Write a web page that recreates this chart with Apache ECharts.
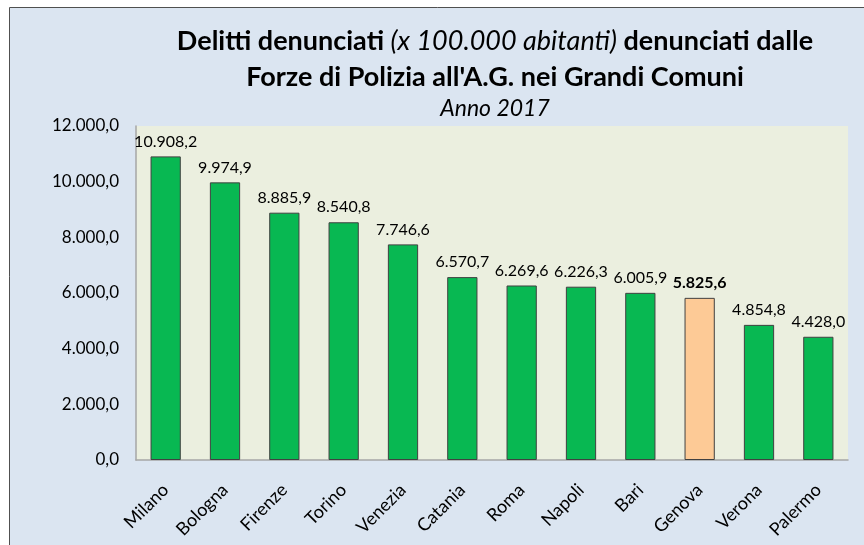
<!DOCTYPE html>
<html>
<head>
<meta charset="utf-8">
<script src="https://cdn.jsdelivr.net/npm/echarts@6/dist/echarts.min.js"></script>
<style>
  html, body { margin: 0; padding: 0; background: #fff; }
  #main { width: 864px; height: 545px; }
</style>
</head>
<body>
<div id="main"></div>
<script>
const cities = ['Milano', 'Bologna', 'Firenze', 'Torino', 'Venezia', 'Catania', 'Roma', 'Napoli', 'Bari', 'Genova', 'Verona', 'Palermo'];
const crimesPer100k = [10908.2, 9974.9, 8885.9, 8540.8, 7746.6, 6570.7, 6269.6, 6226.3, 6005.9, 5825.6, 4854.8, 4428.0];
const highlightCity = 'Genova';

const FONT = 'Lato';

// formato italiano: 10.908,2
function fmt(v) {
    const parts = v.toFixed(1).split('.');
    return parts[0].replace(/\B(?=(\d{3})+(?!\d))/g, '.') + ',' + parts[1];
}

const chart = echarts.init(document.getElementById('main'));

const barData = crimesPer100k.map((v, i) => {
    const isHl = cities[i] === highlightCity;
    return {
        value: v,
        itemStyle: { color: isHl ? '#fdca96' : '#08b852' },
        label: { fontWeight: isHl ? 'bold' : 'normal' }
    };
});

chart.setOption({
    backgroundColor: '#ffffff',
    textStyle: { fontFamily: FONT },
    graphic: [
        {
            type: 'rect',
            z: -10,
            shape: { x: 9.5, y: 7.5, width: 900, height: 600 },
            style: { fill: '#dbe5f1', stroke: '#505050', lineWidth: 1 }
        }
    ],
    title: {
        left: 490,
        textAlign: 'center',
        top: 18,
        text: '{b|Delitti denunciati }{i|(x 100.000 abitanti)}{b| denunciati dalle}\n{b|Forze di Polizia all\'A.G. nei Grandi Comuni}',
        textStyle: {
            lineHeight: 36,
            fontWeight: 'normal',
            rich: {
                b: { fontFamily: FONT, fontSize: 27, fontWeight: 'bold', color: '#000', lineHeight: 36 },
                i: { fontFamily: FONT, fontSize: 27, fontStyle: 'italic', fontWeight: 'normal', color: '#000', lineHeight: 36 }
            }
        },
        subtext: 'Anno 2017',
        itemGap: 2,
        subtextStyle: { fontFamily: FONT, fontSize: 23, fontStyle: 'italic', color: '#000' }
    },
    grid: {
        left: 136,
        right: 16,
        top: 126,
        bottom: 85,
        show: true,
        backgroundColor: '#ebefdf',
        borderWidth: 0
    },
    xAxis: {
        type: 'category',
        data: cities,
        axisLine: { lineStyle: { color: '#a6a6a6', width: 1.5 } },
        axisTick: { show: false },
        axisLabel: {
            rotate: 45,
            interval: 0,
            margin: 27,
            fontSize: 18,
            fontFamily: FONT,
            color: '#000'
        }
    },
    yAxis: {
        type: 'value',
        min: 0,
        max: 12000,
        interval: 2000,
        axisLine: { show: true, lineStyle: { color: '#a6a6a6', width: 1.5 } },
        axisTick: { show: false },
        splitLine: { show: false },
        axisLabel: {
            formatter: v => fmt(v),
            fontSize: 17,
            fontFamily: FONT,
            color: '#000',
            margin: 17
        }
    },
    series: [
        {
            type: 'bar',
            data: barData,
            barWidth: '51%',
            itemStyle: { borderColor: '#404040', borderWidth: 1 },
            label: {
                show: true,
                position: 'top',
                distance: 7,
                fontSize: 16,
                fontFamily: FONT,
                color: '#000',
                formatter: p => fmt(p.value)
            }
        }
    ]
});
</script>
</body>
</html>
